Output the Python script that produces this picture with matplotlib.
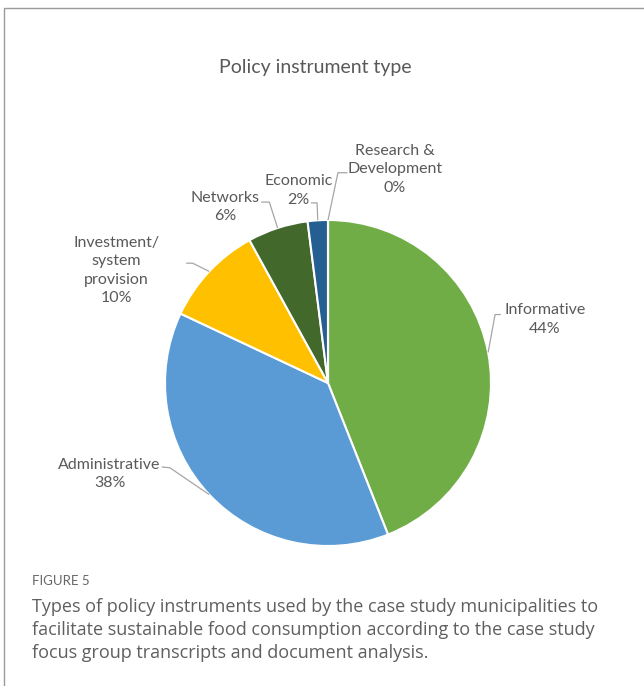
import numpy as np
import matplotlib.pyplot as plt
from matplotlib.patches import Rectangle

# policy instrument shares (%)
categories = ["Informative", "Administrative", "Investment/\nsystem\nprovision",
              "Networks", "Economic", "Research &\nDevelopment"]
shares = [44, 38, 10, 6, 2, 0]
colors = ["#70AD47", "#5B9BD5", "#FFC000", "#43682B", "#255E91", "#1F4E79"]

# label centre, elbow and end of the leader line (pie radius units)
label_xy = [(1.33, 0.39), (-1.34, -0.56), (-1.30, 0.69),
            (-0.63, 1.08), (-0.18, 1.18), (0.41, 1.31)]
elbow_xy = [(1.025, 0.42), (-0.97, -0.52), (-0.83, 0.735),
            (-0.36, 1.11), (-0.067, 1.105), (0.061, 1.29)]
stub_xy = [(1.06, 0.42), (-1.02, -0.515), (-0.87, 0.735),
           (-0.41, 1.11), (-0.105, 1.105), (0.12, 1.29)]

W, H = 644, 686
fig = plt.figure(figsize=(W / 100, H / 100), dpi=100)
fig.patch.set_facecolor("white")

# thin frame around the figure panel
fig.patches.append(Rectangle((4 / W, -0.05), 1.2, 1 - 8 / H + 0.05,
                             transform=fig.transFigure, fill=False,
                             edgecolor="#9a9a9a", linewidth=1.0))

cx, cy, r = 328, 383, 163
ax = fig.add_axes([(cx - r) / W, 1 - (cy + r) / H, 2 * r / W, 2 * r / H])
ax.axis("off")

wedges, _ = ax.pie(shares, colors=colors, startangle=90, counterclock=False,
                   radius=1, wedgeprops=dict(edgecolor="white", linewidth=1.5))
ax.set_xlim(-1, 1)
ax.set_ylim(-1, 1)

text_color = "#595959"
for w, name, val, lxy, exy, sxy in zip(wedges, categories, shares,
                                       label_xy, elbow_xy, stub_xy):
    mid = np.deg2rad((w.theta1 + w.theta2) / 2)
    px, py = np.cos(mid), np.sin(mid)
    ax.plot([px, exy[0], sxy[0]], [py, exy[1], sxy[1]], color="#a6a6a6",
            linewidth=0.9, clip_on=False, solid_capstyle="butt")
    ax.text(lxy[0], lxy[1], f"{name}\n{val}%", ha="center", va="center",
            fontsize=11.5, family="Lato", color=text_color,
            linespacing=1.4, clip_on=False)

fig.text(315 / W, 1 - 68 / H, "Policy instrument type", ha="center",
         va="center", fontsize=14, family="Lato", color=text_color)

fig.text(32 / W, 1 - 581 / H, "FIGURE 5", ha="left", va="center",
         fontsize=9.5, family="Lato", color="#666666")
caption = ("Types of policy instruments used by the case study municipalities to\n"
           "facilitate sustainable food consumption according to the case study\n"
           "focus group transcripts and document analysis.")
fig.text(32 / W, 1 - 630 / H, caption, ha="left", va="center",
         fontsize=13, family="Open Sans", color="#5f5f5f", linespacing=1.33)

fig.savefig("out.png", dpi=100)
